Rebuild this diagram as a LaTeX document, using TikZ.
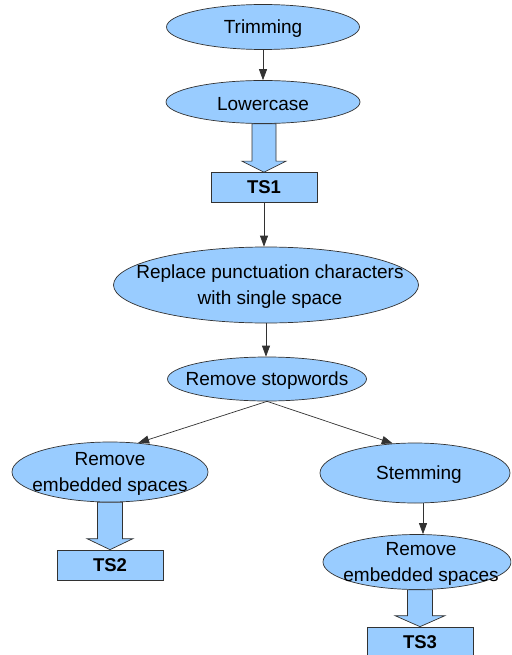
\documentclass[tikz,border=0pt]{standalone}
\usepackage{fontspec}
\setmainfont{Liberation Sans}
\usetikzlibrary{arrows.meta,shapes.geometric,calc}
\definecolor{nodeblue}{RGB}{153,204,255}
\definecolor{edgegray}{RGB}{50,50,50}
\newcommand\blockarr[5]{% #1 from, #2 to, #3 coord name, #4 shaft half, #5 head half
  \coordinate (#3) at (#2.north |- #1.south);
  \draw[bigarrow] ([xshift=-#4]#3) -- ([xshift=#4]#3)
    -- ([xshift=#4,yshift=11pt]#2.north) -- ([xshift=#5,yshift=11pt]#2.north)
    -- (#2.north)
    -- ([xshift=-#5,yshift=11pt]#2.north) -- ([xshift=-#4,yshift=11pt]#2.north) -- cycle;}
\begin{document}
\begin{tikzpicture}[x=1pt,y=-1pt,
  ell/.style={ellipse,draw=edgegray,fill=nodeblue,line width=0.7pt,inner sep=0pt},
  lbl/.style={inner sep=0pt,align=center,yshift=-2pt,font=\fontsize{19}{26}\selectfont},
  tsbox/.style={rectangle,draw=edgegray,fill=nodeblue,line width=0.7pt,inner sep=0pt,
    minimum width=106pt,minimum height=30pt,font=\bfseries\fontsize{18.5}{22}\selectfont},
  arr/.style={draw=edgegray,line width=0.7pt,-{Triangle[width=8pt,length=11pt]}},
  bigarrow/.style={draw=edgegray,fill=nodeblue,line width=0.7pt}]
\useasboundingbox (0,0) rectangle (511,655);
\clip (0,0) rectangle (511,655);
\fill[white] (0,0) rectangle (511,655);
% nodes
\node[ell,minimum width=193pt,minimum height=45pt,label={[lbl]center:Trimming}] (trim) at (263,27) {};
\node[ell,minimum width=194pt,minimum height=43pt,label={[lbl]center:Lowercase}] (lower) at (263,102) {};
\node[tsbox] (ts1) at (264,187.5) {TS1};
\node[ell,minimum width=305pt,minimum height=76pt,label={[lbl,xshift=4pt]center:Replace punctuation characters\\with single space}] (rep) at (266,285) {};
\node[ell,minimum width=199pt,minimum height=44pt,label={[lbl]center:Remove stopwords}] (stop) at (267,379) {};
\node[ell,minimum width=196pt,minimum height=60pt,label={[lbl]center:Remove\\embedded spaces}] (lrem) at (110,472) {};
\node[tsbox] (ts2) at (110,565) {TS2};
\node[ell,minimum width=190pt,minimum height=60pt,label={[lbl,xshift=4pt]center:Stemming}] (stem) at (415,473) {};
\node[ell,minimum width=188pt,minimum height=55pt,label={[lbl,xshift=4pt]center:Remove\\embedded spaces}] (rrem) at (417,562) {};
\node[tsbox] (ts3) at (420,642) {TS3};
% thin connectors
\draw[arr] (trim) -- (lower);
\draw[arr] (ts1.south) -- (ts1.south |- rep.north);
\draw[arr] (rep.south) -- (rep.south |- stop.north);
\draw[arr] (stop.south) -- (lrem.46);
\draw[arr] (stop.south) -- (stem.127);
\draw[arr] ([xshift=8pt]stem.south) -- ([xshift=8pt]stem.south |- rrem.north);
% block arrows
\blockarr{lower}{ts1}{b1}{12pt}{22pt}
\blockarr{lrem}{ts2}{b2}{12.5pt}{23pt}
\blockarr{rrem}{ts3}{b3}{12.5pt}{25pt}
\end{tikzpicture}
\end{document}
